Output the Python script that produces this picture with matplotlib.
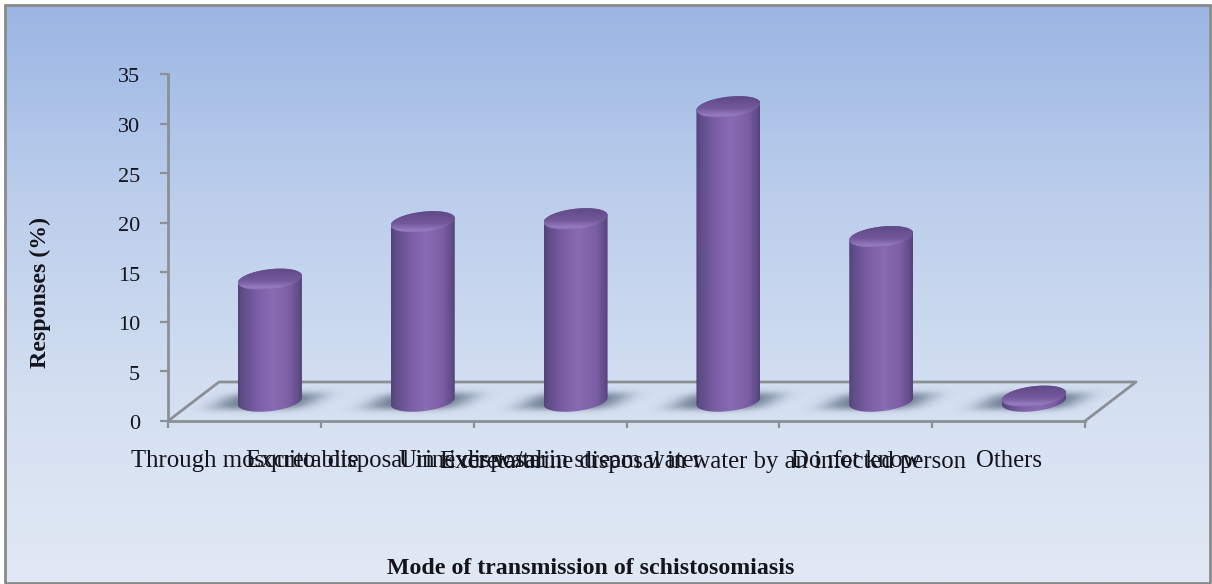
import numpy as np
import matplotlib
matplotlib.use("Agg")
import matplotlib.pyplot as plt
from matplotlib.colors import LinearSegmentedColormap
from matplotlib.path import Path
from matplotlib.patches import Rectangle
from matplotlib.transforms import ScaledTranslation

categories = ["Through mosquito bite", "Excreta disposal in river water", "Urine disposal in stream water",
              "Excreta/urine disposal in water by an infected person", "Do not know", "Others"]
responses = [12.3, 18.1, 18.4, 29.7, 16.6, 0.5]
y_ticks = [0, 5, 10, 15, 20, 25, 30, 35]

W, H = 1212, 584
plt.rcParams["font.family"] = ["Liberation Serif", "DejaVu Serif"]
GREY = "#8b8f96"
TEXT = "#14141c"

fig = plt.figure(figsize=(W / 100, H / 100), dpi=100, facecolor="white")

# panel background with the vertical blue fade and grey border
bg = fig.add_axes([0, 0, 1, 1], zorder=0)
bg.axis("off")
fade = LinearSegmentedColormap.from_list("fade", ["#9bb6e3", "#bcceec", "#d3dff1", "#e2e9f5"])
bg.imshow(np.linspace(0, 1, 256)[:, None], cmap=fade, extent=(6, 1209, 582, 6), aspect="auto")
bg.set_xlim(0, W)
bg.set_ylim(H, 0)
bg.add_patch(Rectangle((5, 5), 1205, 578, fill=False, ec="#8a8a8a", lw=2))

left, right, bottom, top = 168, 1085, 421, 74
ax = fig.add_axes([left / W, 1 - bottom / H, (right - left) / W, (bottom - top) / H], zorder=1)
ax.patch.set_visible(False)
ax.set_xlim(0, 6)
ax.set_ylim(0, 35)

# data units per pixel, used for the floor depth
sx = 6 / (right - left)
sy = 35 / (bottom - top)
depth_x, depth_y = 51 * sx, 39 * sy

# floor outline
ax.plot([0, depth_x, 6 + depth_x, 6], [0, depth_y, depth_y, 0], color=GREY, lw=2, clip_on=False, zorder=2)

body_cmap = LinearSegmentedColormap.from_list(
    "body", [(0, "#54437a"), (0.07, "#614d8a"), (0.3, "#7a5ea4"), (0.55, "#8a6cb4"),
             (0.82, "#7a5da3"), (0.95, "#624d89"), (1, "#54437a")])
cap_cmap = LinearSegmentedColormap.from_list(
    "cap", [(0, "#5f4987"), (0.55, "#725899"), (0.85, "#957bc0"), (1, "#7e63a9")])

half_w, half_h, tilt = 32, 10, 3.5


def rim(cx, cy, t):
    # tilted ellipse, half sizes given in pixels
    return cx + half_w * sx * np.cos(t), cy + (half_h * np.sin(t) + tilt * np.cos(t)) * sy


def floor_shadow(cx, cy):
    px = np.linspace(-90, 90, 181)
    py = np.linspace(-24, 24, 49)
    u, v = np.meshgrid(px, py)
    alpha = np.exp(-((u - 1.5 * v + 2) / 48) ** 4) * np.exp(-np.abs(v / 9) ** 3) * 0.75
    rgba = np.zeros(alpha.shape + (4,))
    rgba[..., :3] = matplotlib.colors.to_rgb("#46566c")
    rgba[..., 3] = alpha
    ax.imshow(rgba, origin="lower", aspect="auto", zorder=3, clip_on=False,
              extent=(cx - 90 * sx, cx + 90 * sx, cy - 24 * sy, cy + 24 * sy))


# cylinders stand half way back on the floor
for i, value in enumerate(responses):
    cx = i + 0.5 + depth_x / 2
    base = 2.0
    top_y = base + value
    floor_shadow(cx, base)

    t_low = np.linspace(np.pi, 2 * np.pi, 60)
    t_up = np.linspace(0, np.pi, 60)
    xb, yb = rim(cx, base, t_low)
    xt, yt = rim(cx, top_y, t_up)
    outline = Path(np.column_stack([np.r_[xb, xt], np.r_[yb, yt]]))
    body = ax.imshow(np.linspace(0, 1, 128)[None, :], cmap=body_cmap, aspect="auto", zorder=4,
                     extent=(cx - half_w * sx, cx + half_w * sx, base - 14 * sy, top_y + 14 * sy))
    body.set_clip_path(outline, ax.transData)

    tt = np.linspace(0, 2 * np.pi, 120)
    xc, yc = rim(cx, top_y, tt)
    cap = ax.imshow(np.linspace(0, 1, 64)[:, None], cmap=cap_cmap, aspect="auto", zorder=5,
                    origin="upper",
                    extent=(cx - half_w * sx, cx + half_w * sx, top_y - 12 * sy, top_y + 12 * sy))
    cap.set_clip_path(Path(np.column_stack([xc, yc])), ax.transData)

ax.set_xlim(0, 6)
ax.set_ylim(0, 35)

for side in ("top", "right"):
    ax.spines[side].set_visible(False)
for side in ("left", "bottom"):
    ax.spines[side].set_color(GREY)
    ax.spines[side].set_linewidth(2)

ax.set_yticks(y_ticks)
ax.tick_params(axis="y", length=6, width=1.6, color=GREY, pad=14, labelsize=16, labelcolor=TEXT)
for lab in ax.get_yticklabels():
    lab.set_transform(lab.get_transform() + ScaledTranslation(0, -1 / 72, fig.dpi_scale_trans))
ax.set_xticks(range(7))
ax.set_xticklabels([])
ax.tick_params(axis="x", which="major", length=5, width=1.6, color=GREY)
ax.set_xticks(np.arange(6) + 0.5, labels=categories, minor=True)
ax.tick_params(axis="x", which="minor", length=0, pad=21, labelsize=17.8, labelcolor=TEXT)

ax.set_xlabel("Mode of transmission of schistosomiasis", fontweight="bold", fontsize=17.2, color=TEXT, va="center")
ax.xaxis.set_label_coords((591 - left) / (right - left), -(568 - bottom) / (bottom - top))
ax.set_ylabel("Responses (%)", fontweight="bold", fontsize=17.2, color=TEXT, va="center")
ax.yaxis.set_label_coords((40 - left) / (right - left), (bottom - 292) / (bottom - top))

fig.savefig("out.png", dpi=100, facecolor="white")
